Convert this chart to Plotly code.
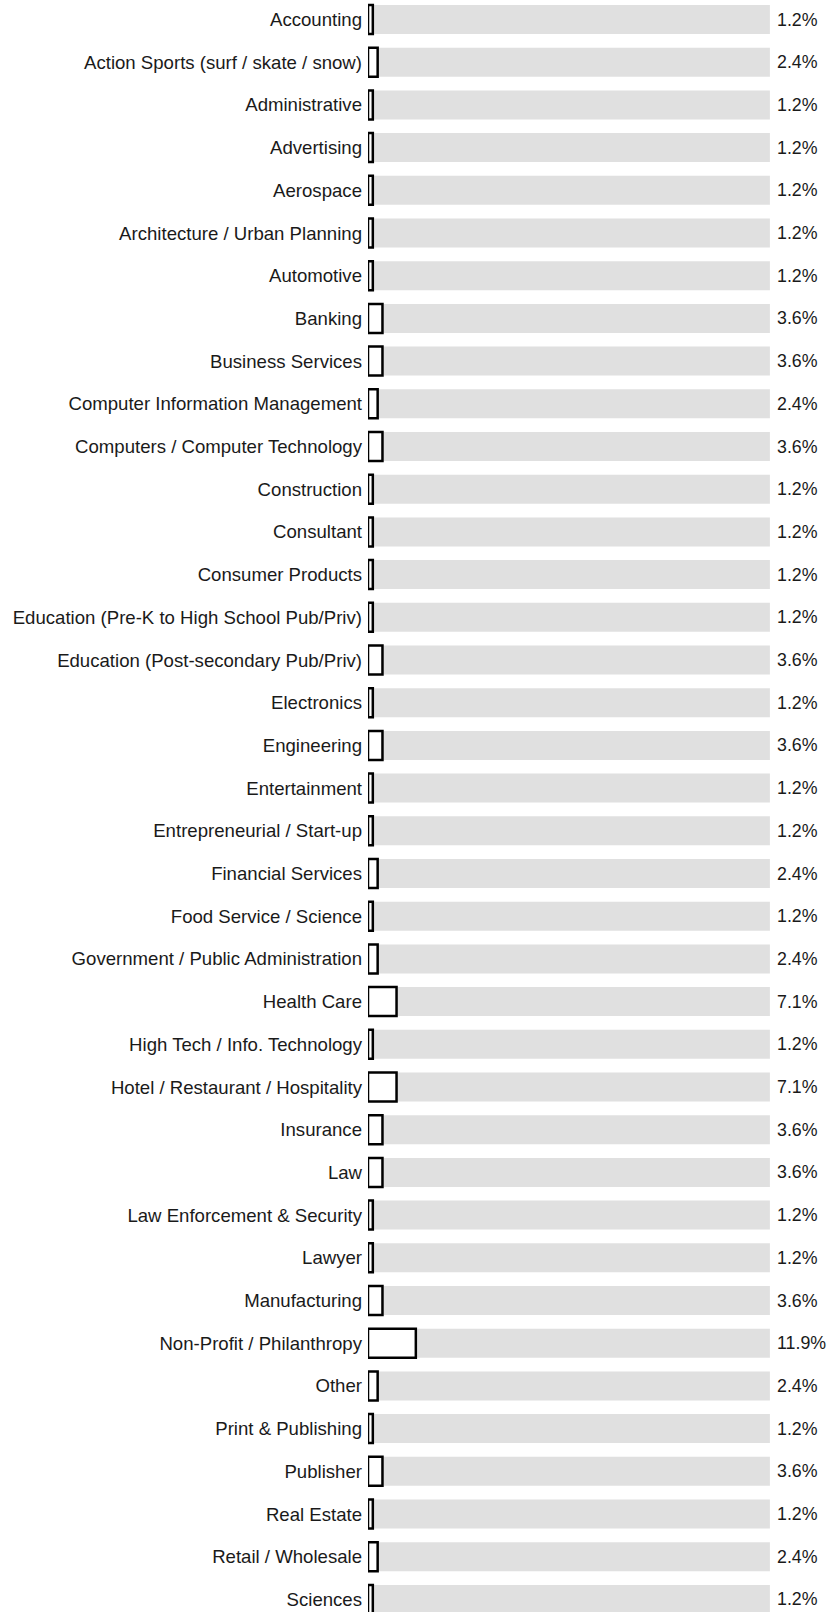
import plotly.graph_objects as go

categories = [
    "Accounting", "Action Sports (surf / skate / snow)", "Administrative", "Advertising",
    "Aerospace", "Architecture / Urban Planning", "Automotive", "Banking",
    "Business Services", "Computer Information Management", "Computers / Computer Technology",
    "Construction", "Consultant", "Consumer Products",
    "Education (Pre-K to High School Pub/Priv)", "Education (Post-secondary Pub/Priv)",
    "Electronics", "Engineering", "Entertainment", "Entrepreneurial / Start-up",
    "Financial Services", "Food Service / Science", "Government / Public Administration",
    "Health Care", "High Tech / Info. Technology", "Hotel / Restaurant / Hospitality",
    "Insurance", "Law", "Law Enforcement & Security", "Lawyer", "Manufacturing",
    "Non-Profit / Philanthropy", "Other", "Print & Publishing", "Publisher",
    "Real Estate", "Retail / Wholesale", "Sciences",
]
values = [
    1.2, 2.4, 1.2, 1.2, 1.2, 1.2, 1.2, 3.6, 3.6, 2.4, 3.6, 1.2, 1.2, 1.2, 1.2, 3.6,
    1.2, 3.6, 1.2, 1.2, 2.4, 1.2, 2.4, 7.1, 1.2, 7.1, 3.6, 3.6, 1.2, 1.2, 3.6, 11.9,
    2.4, 1.2, 3.6, 1.2, 2.4, 1.2,
]
full_scale = [100] * len(categories)
labels = [f"{v:.1f}%" for v in values]

FONT = "Liberation Sans, Arial, sans-serif"
BAR_W = 0.68

fig = go.Figure()
fig.add_trace(go.Bar(
    y=categories, x=full_scale, orientation="h", width=BAR_W,
    marker=dict(color="#e0e0e0", line=dict(width=0)),
    hoverinfo="skip", showlegend=False,
))
fig.add_trace(go.Bar(
    y=categories, x=values, orientation="h", width=BAR_W,
    marker=dict(color="white", line=dict(color="black", width=2.5)),
    showlegend=False,
))

for c, t in zip(categories, labels):
    fig.add_annotation(x=100, y=c, text=t, xanchor="left", yanchor="middle",
                       xshift=5, showarrow=False,
                       font=dict(family=FONT, size=17.8, color="#1a1a1a"))

top = -0.4567
bottom = top + 1612 / 42.7

fig.update_layout(
    width=833, height=1612,
    margin=dict(l=368, r=0, t=0, b=0, autoexpand=False),
    barmode="overlay",
    plot_bgcolor="white", paper_bgcolor="white",
    font=dict(family=FONT, size=18.6, color="#1a1a1a"),
    xaxis=dict(range=[0, 115.7], visible=False, fixedrange=True),
    yaxis=dict(type="category", categoryorder="array", categoryarray=categories,
               range=[bottom, top], showgrid=False, zeroline=False, showline=False,
               ticks="", ticklabelstandoff=5, automargin=False,
               tickfont=dict(family=FONT, size=18.6, color="#1a1a1a")),
)

fig.write_html("out.html", config={"displayModeBar": False},
               post_script="document.body.style.margin='0';document.body.style.overflow='hidden';")
